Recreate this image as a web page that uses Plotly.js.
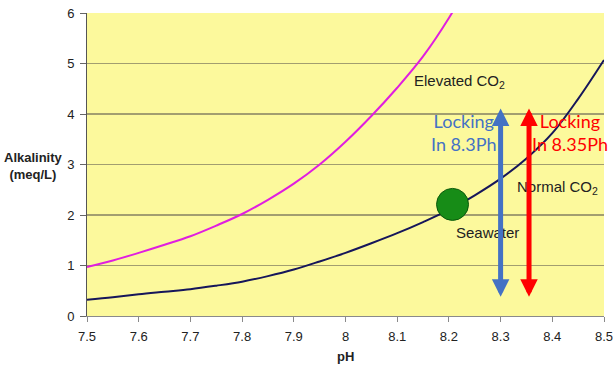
<!DOCTYPE html>
<html><head><meta charset="utf-8">
<script src="https://cdn.plot.ly/plotly-3.0.1.min.js"></script>
<style>html,body{margin:0;padding:0;background:#fff}#c{width:614px;height:371px}</style>
</head><body><div id="c"></div>
<script>
// Data
const phNormal = [7.5, 7.55, 7.6, 7.65, 7.7, 7.75, 7.8, 7.85, 7.9, 7.95, 8.0, 8.05, 8.1, 8.15, 8.2, 8.25, 8.3, 8.35, 8.4, 8.45, 8.5];
const alkNormal = [0.32, 0.37, 0.43, 0.48, 0.53, 0.6, 0.68, 0.79, 0.92, 1.08, 1.25, 1.44, 1.64, 1.86, 2.1, 2.39, 2.72, 3.12, 3.62, 4.3, 5.07];
const phElevated = [7.5, 7.55, 7.6, 7.65, 7.7, 7.75, 7.8, 7.85, 7.9, 7.95, 8.0, 8.05, 8.1, 8.15, 8.2, 8.25];
const alkElevated = [0.97, 1.1, 1.25, 1.41, 1.58, 1.79, 2.02, 2.3, 2.62, 3.0, 3.45, 3.96, 4.52, 5.14, 5.9, 6.8];
const seawaterPh = [8.207];
const seawaterAlk = [2.21];
const arrowPh = [8.3, 8.355];
const arrowLow = [0.38, 0.38];
const arrowHigh = [4.14, 4.14];
const arrowColors = ['#4472c4', '#ff0000'];
const arrowLabels = ['Locking<br>In 8.3Ph', 'Locking<br>In 8.35Ph'];
const tickVals = [7.5, 7.6, 7.7, 7.8, 7.9, 8.0, 8.1, 8.2, 8.3, 8.4, 8.5];
const tickText = ['7.5', '7.6', '7.7', '7.8', '7.9', '8', '8.1', '8.2', '8.3', '8.4', '8.5'];
const yTicks = [0, 1, 2, 3, 4, 5, 6];

const W = 614, H = 371, ML = 87, MR = 10, MT = 13, MB = 55;
const px2x = p => (p - ML) / (W - ML - MR);
const py2y = p => (H - MB - p) / (H - MT - MB);

const traces = [
  {x: phElevated, y: alkElevated, mode: 'lines', line: {color: '#e01ee0', width: 2, shape: 'spline', smoothing: 1}, hoverinfo: 'skip'},
  {x: phNormal, y: alkNormal, mode: 'lines', line: {color: '#16165a', width: 2, shape: 'spline', smoothing: 1}, hoverinfo: 'skip'},
  {x: seawaterPh, y: seawaterAlk, mode: 'markers', marker: {size: 32, color: '#178c17', line: {color: '#0c5a0c', width: 1}}, hoverinfo: 'skip'}
];

const ann = [];
const lab = {family: 'Arial, Liberation Sans, sans-serif', size: 15, color: '#222'};
ann.push({x: 8.221, y: 4.65, xref: 'x', yref: 'y', text: 'Elevated CO<sub>2</sub>', showarrow: false, font: lab});
ann.push({x: 8.411, y: 2.55, xref: 'x', yref: 'y', text: 'Normal CO<sub>2</sub>', showarrow: false, font: lab});
ann.push({x: 8.275, y: 1.66, xref: 'x', yref: 'y', text: 'Seawater', showarrow: false, font: lab});
for (let i = 0; i < arrowPh.length; i++) {
  ann.push({x: arrowPh[i], y: arrowLow[i], ax: arrowPh[i], ay: arrowHigh[i], xref: 'x', yref: 'y', axref: 'x', ayref: 'y',
    text: '', showarrow: true, arrowside: 'end+start', arrowhead: 2, arrowsize: 0.7, arrowwidth: 5, arrowcolor: arrowColors[i]});
}
const lockFont = {family: 'Lato, Open Sans, sans-serif', size: 18};
ann.push({x: 8.229, y: 3.64, xref: 'x', yref: 'y', text: arrowLabels[0], showarrow: false, align: 'center',
  font: Object.assign({}, lockFont, {color: arrowColors[0]})});
ann.push({x: 8.434, y: 3.64, xref: 'x', yref: 'y', text: arrowLabels[1], showarrow: false, align: 'center',
  font: Object.assign({}, lockFont, {color: arrowColors[1]})});
ann.push({x: px2x(33.5), y: py2y(166), xref: 'paper', yref: 'paper', text: '<b>Alkalinity</b><br><b>(meq/L)</b>', showarrow: false,
  xanchor: 'center', yanchor: 'middle', font: {family: 'Arial, Liberation Sans, sans-serif', size: 13, color: '#222'}});
ann.push({x: px2x(345), y: py2y(356), xref: 'paper', yref: 'paper', text: '<b>pH</b>', showarrow: false,
  xanchor: 'center', yanchor: 'middle', font: {family: 'Arial, Liberation Sans, sans-serif', size: 13, color: '#222'}});

const layout = {
  width: W, height: H,
  margin: {l: ML, r: MR, t: MT, b: MB},
  paper_bgcolor: '#ffffff',
  plot_bgcolor: '#fcf99c',
  showlegend: false,
  font: {family: 'Arial, Liberation Sans, sans-serif', size: 13, color: '#222'},
  xaxis: {range: [7.5, 8.5], tickvals: tickVals, ticktext: tickText, showgrid: false, zeroline: false,
    showline: true, linecolor: '#8a8a8a', linewidth: 1, ticks: 'outside', ticklen: 5, tickcolor: '#8a8a8a',
    ticklabelstandoff: 3, tickfont: {size: 13, color: '#222'}},
  yaxis: {range: [0, 6], tickvals: yTicks, showgrid: true, gridcolor: '#a29e70', gridwidth: 1.5, zeroline: false,
    showline: true, linecolor: '#555', linewidth: 1, ticks: 'outside', ticklen: 6, tickcolor: '#666',
    ticklabelstandoff: 3, tickfont: {size: 13, color: '#222'}},
  annotations: ann
};
Plotly.newPlot('c', traces, layout, {staticPlot: true});
</script></body></html>
